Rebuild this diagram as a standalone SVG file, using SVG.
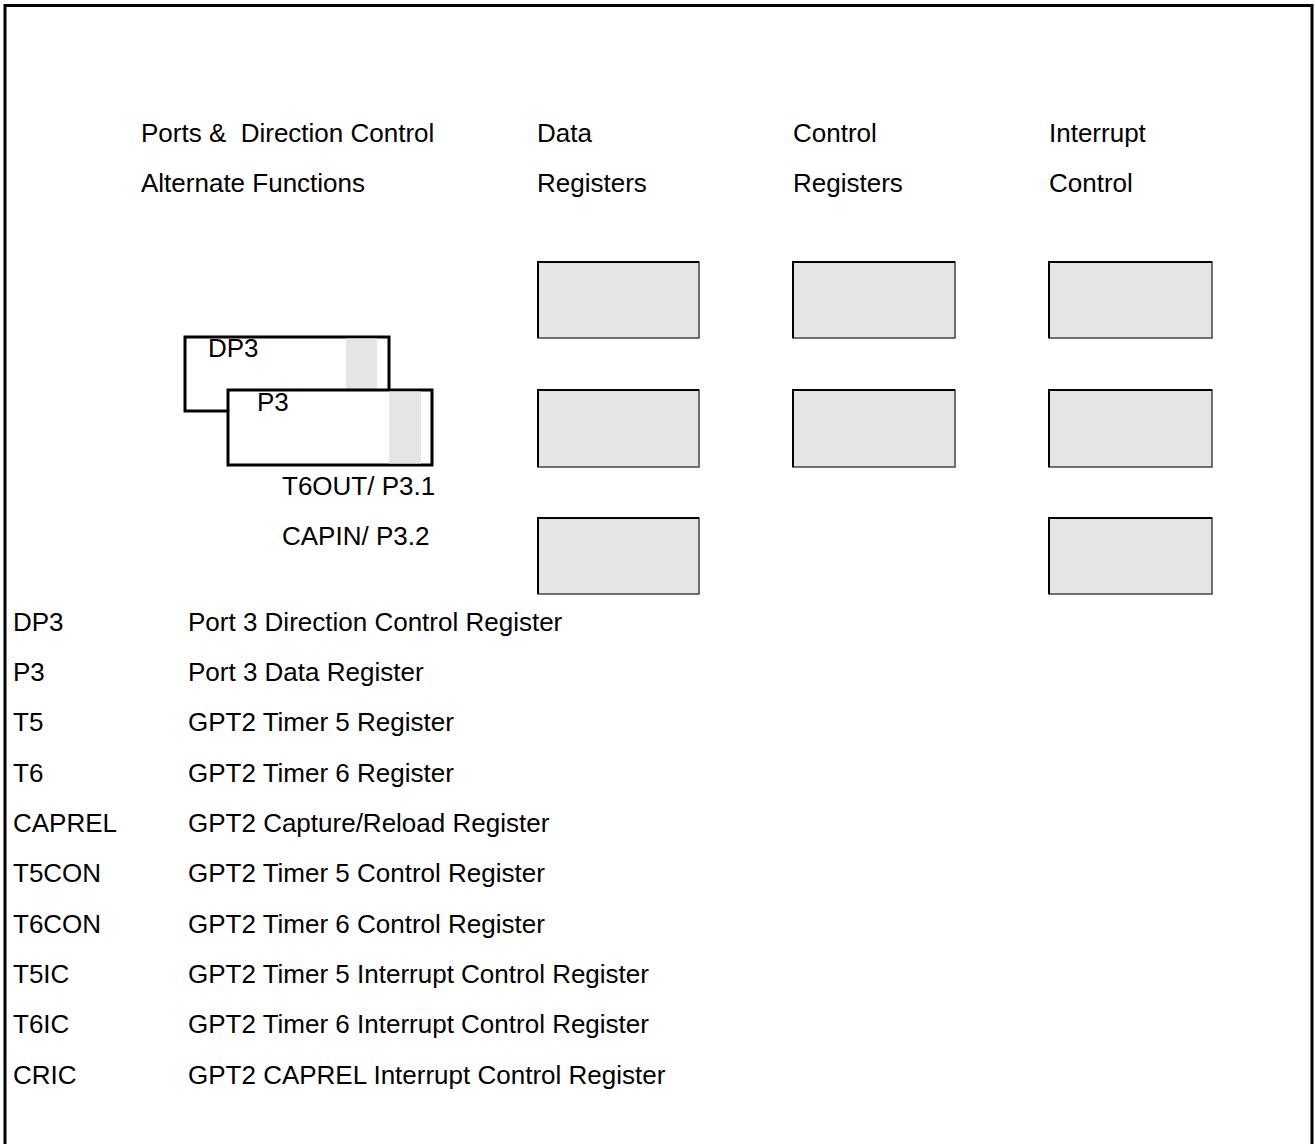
<svg xmlns="http://www.w3.org/2000/svg" width="1314" height="1144" viewBox="0 0 1314 1144">
<style>
text{font-family:"Liberation Sans",Arial,sans-serif;font-size:26px;fill:#000}
.pre{white-space:pre}
.reg{fill:#e5e5e5;stroke:#444;stroke-width:1.5}
.regtl{fill:none;stroke:#000;stroke-width:2}
.port{fill:#fff;stroke:#000;stroke-width:3}
.band{fill:#e5e5e5;stroke:none}
</style>
<rect x="0" y="0" width="1314" height="1144" fill="#fff"/>
<rect x="5" y="5.5" width="1307" height="1160" fill="none" stroke="#000" stroke-width="3"/>
<g id="headers">
<text class="pre" x="141" y="142" xml:space="preserve">Ports &amp;  Direction Control</text>
<text x="141" y="192">Alternate Functions</text>
<text x="537" y="142">Data</text>
<text x="537" y="192">Registers</text>
<text x="793" y="142">Control</text>
<text x="793" y="192">Registers</text>
<text x="1049" y="142">Interrupt</text>
<text x="1049" y="192">Control</text>
</g>
<g id="dp3">
<rect class="port" x="185" y="337" width="204" height="74"/>
<rect class="band" x="346" y="338.5" width="31" height="71"/>
<text x="208" y="357">DP3</text>
</g>
<g id="p3">
<rect class="port" x="228" y="390" width="204" height="75"/>
<rect class="band" x="389" y="391.5" width="32" height="72"/>
<text x="257" y="411">P3</text>
</g>
<g id="pins">
<text x="282" y="495">T6OUT/ P3.1</text>
<text x="282" y="545">CAPIN/ P3.2</text>
</g>
<g id="data-registers">
<rect class="reg" x="538" y="262" width="161" height="76"/>
<path class="regtl" d="M538 338V262H699"/>
<rect class="reg" x="538" y="390" width="161" height="77"/>
<path class="regtl" d="M538 467V390H699"/>
<rect class="reg" x="538" y="518" width="161" height="76"/>
<path class="regtl" d="M538 594V518H699"/>
</g>
<g id="control-registers">
<rect class="reg" x="793" y="262" width="162" height="76"/>
<path class="regtl" d="M793 338V262H955"/>
<rect class="reg" x="793" y="390" width="162" height="77"/>
<path class="regtl" d="M793 467V390H955"/>
</g>
<g id="interrupt-control">
<rect class="reg" x="1049" y="262" width="163" height="76"/>
<path class="regtl" d="M1049 338V262H1212"/>
<rect class="reg" x="1049" y="390" width="163" height="77"/>
<path class="regtl" d="M1049 467V390H1212"/>
<rect class="reg" x="1049" y="518" width="163" height="76"/>
<path class="regtl" d="M1049 594V518H1212"/>
</g>
<g id="connectors"></g>
<g id="legend">
<text x="13" y="631">DP3</text><text x="188" y="631">Port 3 Direction Control Register</text>
<text x="13" y="681">P3</text><text x="188" y="681">Port 3 Data Register</text>
<text x="13" y="731">T5</text><text x="188" y="731">GPT2 Timer 5 Register</text>
<text x="13" y="782">T6</text><text x="188" y="782">GPT2 Timer 6 Register</text>
<text x="13" y="832">CAPREL</text><text x="188" y="832">GPT2 Capture/Reload Register</text>
<text x="13" y="882">T5CON</text><text x="188" y="882">GPT2 Timer 5 Control Register</text>
<text x="13" y="933">T6CON</text><text x="188" y="933">GPT2 Timer 6 Control Register</text>
<text x="13" y="983">T5IC</text><text x="188" y="983">GPT2 Timer 5 Interrupt Control Register</text>
<text x="13" y="1033">T6IC</text><text x="188" y="1033">GPT2 Timer 6 Interrupt Control Register</text>
<text x="13" y="1084">CRIC</text><text x="188" y="1084">GPT2 CAPREL Interrupt Control Register</text>
</g>
</svg>
